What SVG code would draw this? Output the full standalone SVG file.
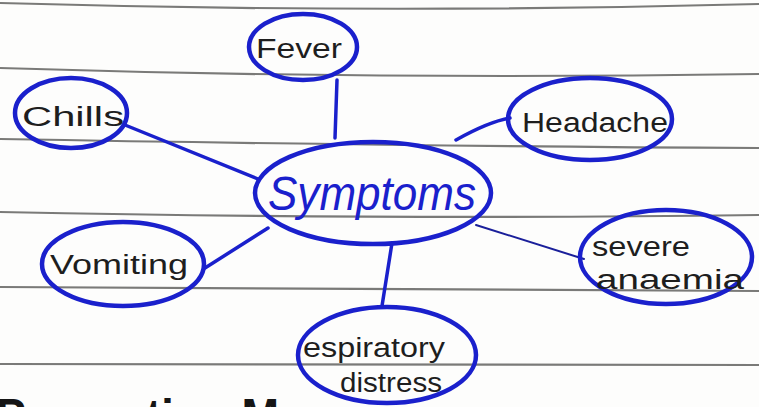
<svg xmlns="http://www.w3.org/2000/svg" width="759" height="407" viewBox="0 0 759 407">
  <style>
    .rule { fill: none; stroke: #7a7a78; stroke-width: 2.2; }
    .node { fill: none; stroke: #1a20cc; stroke-width: 4.5; }
    .edge { fill: none; stroke: #1a20cc; stroke-width: 3.5; stroke-linecap: round; }
    .thin { stroke: #1a1f9a; stroke-width: 2; }
    .lbl { font-family: "Liberation Sans", "DejaVu Sans", sans-serif; fill: #1e1e1e; font-size: 27px; }
    .main { font-family: "Liberation Sans", "DejaVu Sans", sans-serif; fill: #1a20cc; font-size: 48px; font-style: italic; }
    .foot { font-family: "Liberation Sans", "DejaVu Sans", sans-serif; fill: #151515; font-size: 50px; font-weight: bold; }
  </style>
  <rect x="0" y="0" width="759" height="407" fill="#fdfdfc"/>
  <g id="paper">
    <path class="rule" d="M0,3 Q380,14 759,4"/>
    <path class="rule" d="M0,68 Q380,80 759,74"/>
    <path class="rule" d="M0,139 Q400,146 759,148"/>
    <path class="rule" d="M0,212 Q400,220 759,215"/>
    <path class="rule" d="M0,287 Q400,289 759,291"/>
    <path class="rule" d="M0,364 Q400,366 759,365"/>
  </g>
  <g id="connectors">
    <path class="edge" d="M337,80 L335,138"/>
    <path class="edge" d="M125,125 L258,179"/>
    <path class="edge" d="M510,118 Q488,122 456,140"/>
    <path class="edge" d="M205,268 L268,228"/>
    <path class="edge thin" d="M476,225 L584,259"/>
    <path class="edge" d="M392,243 L382,306"/>
  </g>
  <g id="node-fever">
    <ellipse class="node" cx="303" cy="47" rx="54" ry="33"/>
    <text class="lbl" x="256" y="58" textLength="86" lengthAdjust="spacingAndGlyphs">Fever</text>
  </g>
  <g id="node-chills">
    <ellipse class="node" cx="71" cy="113" rx="56" ry="35"/>
    <text class="lbl" x="22" y="126" textLength="102" lengthAdjust="spacingAndGlyphs">Chills</text>
  </g>
  <g id="node-headache">
    <ellipse class="node" cx="590" cy="119" rx="82" ry="41"/>
    <text class="lbl" x="522" y="132" textLength="146" lengthAdjust="spacingAndGlyphs">Headache</text>
  </g>
  <g id="node-symptoms">
    <ellipse class="node" cx="373" cy="193" rx="118" ry="51"/>
    <text class="main" x="268" y="210" textLength="208" lengthAdjust="spacingAndGlyphs">Symptoms</text>
  </g>
  <g id="node-vomiting">
    <ellipse class="node" cx="123" cy="264" rx="81" ry="42"/>
    <text class="lbl" x="50" y="274" textLength="138" lengthAdjust="spacingAndGlyphs">Vomiting</text>
  </g>
  <g id="node-anaemia">
    <ellipse class="node" cx="666" cy="257" rx="86" ry="47"/>
    <text class="lbl" x="592" y="256" textLength="98" lengthAdjust="spacingAndGlyphs">severe</text>
    <text class="lbl" x="596" y="289" textLength="148" lengthAdjust="spacingAndGlyphs">anaemia</text>
  </g>
  <g id="node-respiratory">
    <ellipse class="node" cx="387" cy="355" rx="89" ry="48"/>
    <text class="lbl" x="303" y="357" textLength="142" lengthAdjust="spacingAndGlyphs">espiratory</text>
    <text class="lbl" x="340" y="392" textLength="102" lengthAdjust="spacingAndGlyphs">distress</text>
  </g>
  <g id="footer">
    <text class="foot" x="-4" y="434" textLength="308" lengthAdjust="spacingAndGlyphs">Prevention Me</text>
  </g>
</svg>
